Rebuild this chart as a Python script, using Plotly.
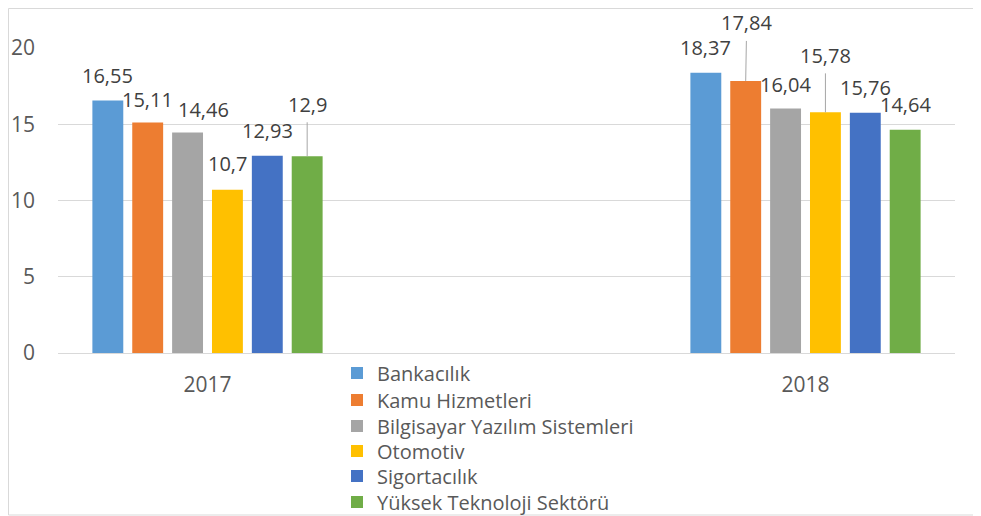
import plotly.graph_objects as go

categories = ["2017", "2018"]
series_names = ["Bankacılık", "Kamu Hizmetleri", "Bilgisayar Yazılım Sistemleri",
                "Otomotiv", "Sigortacılık", "Yüksek Teknoloji Sektörü"]
bankacilik = [16.55, 18.37]
kamu = [15.11, 17.84]
bilgisayar = [14.46, 16.04]
otomotiv = [10.7, 15.78]
sigortacilik = [12.93, 15.76]
yuksek_tek = [12.9, 14.64]
y_ticks = [0, 5, 10, 15, 20]

series_values = [bankacilik, kamu, bilgisayar, otomotiv, sigortacilik, yuksek_tek]
colors = ["#5B9BD5", "#ED7D31", "#A5A5A5", "#FFC000", "#4472C4", "#70AD47"]

# label offsets in pixels (dx, dy) relative to bar top, and leader flag
label_style = [
    [(0, -25, False), (0, -25, False)],
    [(0, -23, False), (1, -58, True)],
    [(16, -23, False), (0, -24, False)],
    [(0, -26, False), (0, -57, True)],
    [(0, -25, False), (0, -25, False)],
    [(0, -52, True), (0, -25, False)],
]

BARGAP = 0.6
BARGROUPGAP = 0.225
FONT = "Open Sans"

# figure geometry (page is offset by the 8px body margin)
OFF = 8
W, H = 981 - OFF, 516 - OFF
L, T = 58 - OFF, 48 - OFF
PR, PB = 955 - OFF, 353 - OFF
R, B = W - PR, H - PB
pw, ph = PR - L, PB - T


def px(xp):
    return (xp - OFF - L) / pw


def py(yp):
    return (PB - (yp - OFF)) / ph


legend_rows = [373, 400, 426, 451, 476, 502]

fig = go.Figure()
xpos = list(range(len(categories)))
for k, (name, vals, col) in enumerate(zip(series_names, series_values, colors)):
    fig.add_trace(go.Bar(x=xpos, y=vals, name=name, marker_color=col,
                         marker_line_width=0,
                         legend="legend" if k == 0 else f"legend{k + 1}"))

n = len(series_values)
slot = (1 - BARGAP) / n
annotations = []
for i, vals in enumerate(series_values):
    for c, v in enumerate(vals):
        dx, dy, leader = label_style[i][c]
        annotations.append(dict(
            x=c + (i - (n - 1) / 2) * slot, y=v, xref="x", yref="y",
            text=str(v).replace(".", ","), showarrow=True,
            ax=dx, ay=dy, arrowhead=0, arrowwidth=1,
            arrowcolor="#A6A6A6" if leader else "rgba(0,0,0,0)",
            startstandoff=3, standoff=0,
            font=dict(family=FONT, size=20, color="#404040"),
        ))

legends = {}
for k, yr in enumerate(legend_rows):
    key = "legend" if k == 0 else f"legend{k + 1}"
    legends[key] = dict(x=px(337), y=py(yr), xanchor="left", yanchor="middle",
                        orientation="v", bgcolor="rgba(0,0,0,0)",
                        font=dict(family=FONT, size=20, color="#595959"))

fig.update_layout(
    width=W, height=H,
    margin=dict(l=L, r=R, t=T, b=B, autoexpand=False),
    paper_bgcolor="white", plot_bgcolor="white",
    barmode="group", bargap=BARGAP, bargroupgap=BARGROUPGAP,
    font=dict(family=FONT, size=20, color="#595959"),
    xaxis=dict(range=[-0.25, 1.25], tickvals=xpos, ticktext=categories,
               showgrid=False, zeroline=False, showline=True,
               linecolor="#D9D9D9", linewidth=1, ticks="",
               ticklabelstandoff=13, automargin=False,
               tickfont=dict(family=FONT, size=21, color="#595959")),
    yaxis=dict(range=[0, 20], tickvals=y_ticks, showgrid=True,
               gridcolor="#D9D9D9", gridwidth=1, zeroline=False,
               showline=False, ticks="", ticklabelstandoff=22, automargin=False,
               tickfont=dict(family=FONT, size=21, color="#595959")),
    showlegend=True,
    annotations=annotations,
    shapes=[dict(type="rect", xref="paper", yref="paper",
                 x0=px(OFF + 0.5), x1=px(980),
                 y0=py(515), y1=py(OFF + 0.5),
                 line=dict(color="#D9D9D9", width=1), fillcolor="rgba(0,0,0,0)",
                 layer="below")],
    **legends,
)

fig.write_html("out.html")
